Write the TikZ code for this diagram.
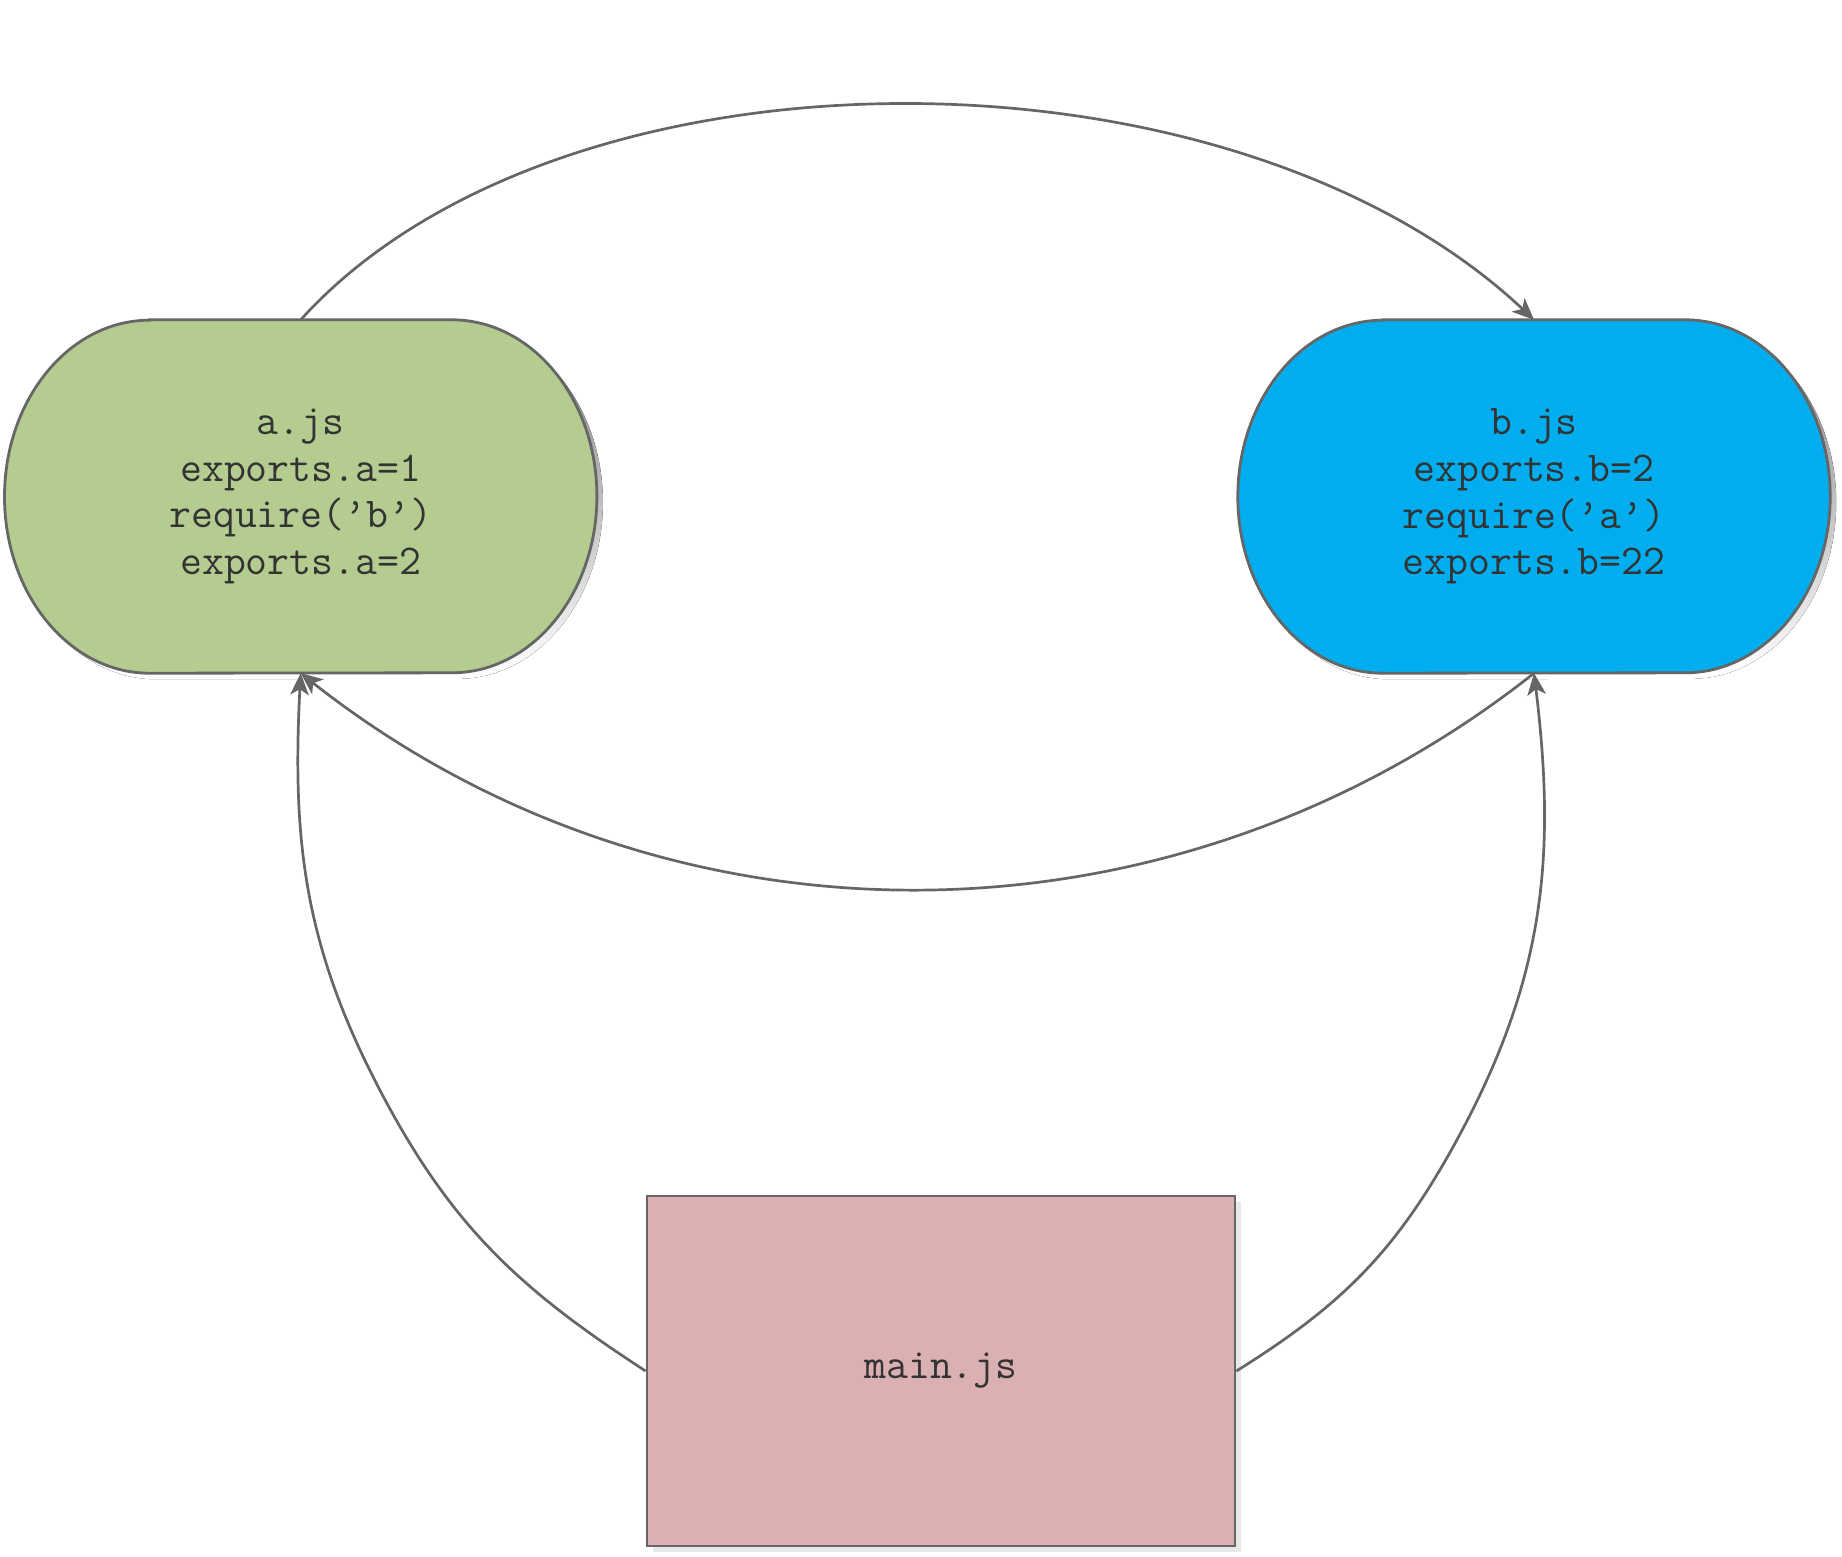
\documentclass[tikz,border=0pt]{standalone}
\usepackage{fontspec}
\usetikzlibrary{arrows.meta,backgrounds,shadows}
\definecolor{lineg}{HTML}{666666}
\definecolor{txt}{HTML}{333333}
\definecolor{agreen}{RGB}{181,204,145}
\definecolor{bblue}{RGB}{0,174,239}
\definecolor{mpink}{RGB}{219,176,178}
\definecolor{shade}{RGB}{232,232,232}
\newcommand\capsulepath[1]{([xshift=145pt]#1.north west) -- ([xshift=-145pt]#1.north east)
  arc[start angle=90,end angle=-90,x radius=145pt,y radius=176.5pt]
  -- ([xshift=145pt]#1.south west)
  arc[start angle=270,end angle=90,x radius=145pt,y radius=176.5pt] -- cycle}
\pgfdeclarearrow{
  name=Classic,
  parameters={},
  setup code={\pgfarrowssettipend{0pt}\pgfarrowssetlineend{-14pt}\pgfarrowssetbackend{-22pt}
    \pgfarrowshullpoint{0pt}{0pt}\pgfarrowshullpoint{-22pt}{9.5pt}\pgfarrowshullpoint{-22pt}{-9.5pt}},
  drawing code={\pgfpathmoveto{\pgfpoint{0pt}{0pt}}
    \pgfpathlineto{\pgfpoint{-22pt}{9.5pt}}
    \pgfpathlineto{\pgfpoint{-16pt}{0pt}}
    \pgfpathlineto{\pgfpoint{-22pt}{-9.5pt}}
    \pgfpathclose\pgfusepathqfill}
}
\begin{document}
\begin{tikzpicture}[x=1pt,y=1pt,
  txtfont/.style={font=\ttfamily\fontsize{42.5}{46.7}\selectfont, text=txt},
  capsule/.style={txtfont, align=center, minimum width=592pt, minimum height=353pt, inner sep=0pt},
  boxnode/.style={txtfont, draw=lineg, line width=2.8pt, fill=mpink, minimum width=588pt, minimum height=350pt, inner sep=0pt,
    drop shadow={shadow xshift=6pt, shadow yshift=-6pt, fill=shade, opacity=1}},
  border/.style={draw=lineg, line width=2.8pt},
  link/.style={color=lineg, line width=2.7pt, -{Classic}}]
\useasboundingbox (0,0) rectangle (1842,-1556);
\node[capsule] (a) at (300.7,-496.5) {a.js\\exports.a=1\\require(’b’)\\exports.a=2};
\node[capsule] (b) at (1534,-496.5) {b.js\\exports.b=2\\require(’a’)\\exports.b=22};
\node[boxnode] (m) at (941,-1371) {main.js};
\begin{scope}[on background layer]
  \fill[shade, transform canvas={shift={(6pt,-6pt)}}] \capsulepath{a};
  \fill[shade, transform canvas={shift={(6pt,-6pt)}}] \capsulepath{b};
  \path[border, fill=agreen] \capsulepath{a};
  \path[border, fill=bblue] \capsulepath{b};
\end{scope}
\coordinate (ml) at (383,-1096);
\coordinate (mr) at (1453,-1147);
\draw[link] (a.north) .. controls (560,-33) and (1230,-33) .. (b.north);
\draw[link] (b.south) .. controls (1170,-961) and (665,-961) .. (a.south);
\draw[link] (m.west) to[out=147,in=-62] (ml) to[out=118,in=-93] (a.south);
\draw[link] (m.east) to[out=32,in=-119] (mr) to[out=61,in=-83] (b.south);
\end{tikzpicture}
\end{document}
